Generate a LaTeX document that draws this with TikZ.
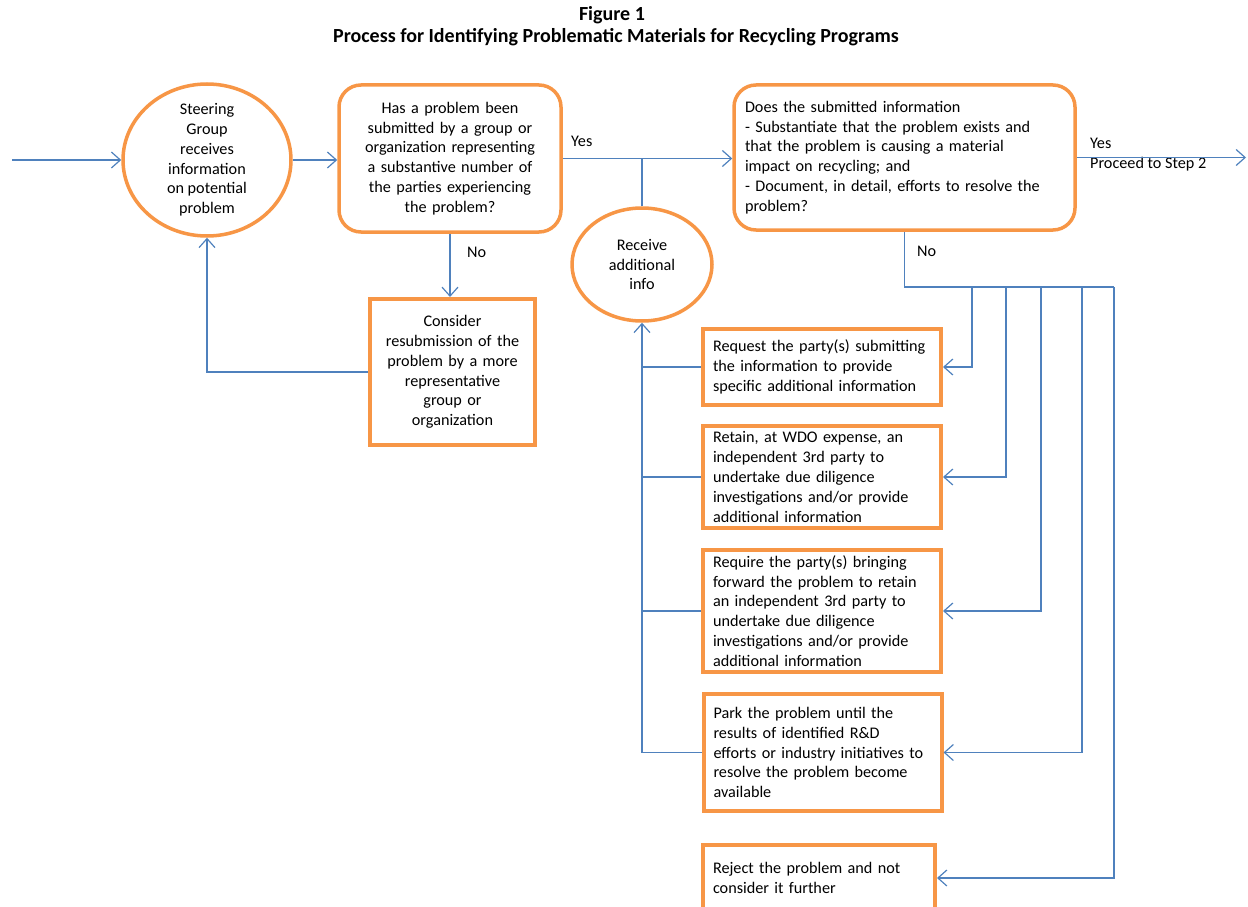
\documentclass[tikz,border=0pt]{standalone}
\usepackage{fontspec}
\setmainfont{Carlito}
\usepackage{tikz}
\usetikzlibrary{arrows.meta,shapes.geometric}
\definecolor{boxorange}{HTML}{F79646}
\definecolor{lineblue}{HTML}{4F81BD}

\begin{document}
\begin{tikzpicture}[x=1pt,y=-1pt,
  bodytext/.style={font=\fontsize{16.2}{19.8}\selectfont},
  titletext/.style={font=\fontsize{20}{22}\selectfont\bfseries,inner sep=0pt},
  lbl/.style={bodytext,inner sep=1pt},
  flow/.style={draw=lineblue,line width=1.2pt,-{Straight Barb[length=9pt,width=16pt,line width=1.2pt]}},
  link/.style={draw=lineblue,line width=1.2pt},
  grp/.style={ellipse,draw=boxorange,line width=3.5pt,inner sep=0pt,bodytext,align=center},
  ask/.style={rectangle,draw=boxorange,line width=3.5pt,rounded corners=22pt,bodytext,inner sep=0pt},
  act/.style={rectangle,draw=boxorange,line width=4pt,bodytext,align=left,text width=#1,inner xsep=10pt,inner ysep=0pt},
  act/.default=218pt]
\useasboundingbox (0,0) rectangle (1248,907);

% title
\node (figno) [titletext] at (612,15) {Figure 1};
\node (title) [titletext] at (616,37) {Process for Identifying Problematic Materials for Recycling Programs};

% upper row
\node (steer) [grp,minimum width=168pt,minimum height=152pt,
  label={[bodytext,align=center]center:Steering\\Group\\receives\\information\\on potential\\problem}] at (207,160) {};
\node (subm) [ask,align=center,text width=204pt,minimum width=222pt,minimum height=147pt] at (450,158.5)
  {Has a problem been\\submitted by a group or\\organization representing\\a substantive number of\\the parties experiencing\\the problem?};
\node (check) [ask,align=left,text width=319pt,minimum width=341pt,minimum height=145pt] at (904.5,157.5)
  {Does the submitted information\\- Substantiate that the problem exists and\\that the problem is causing a  material\\impact on recycling; and\\- Document, in detail, efforts to resolve the\\problem?};
\node (resub) [act=153pt,align=center,inner xsep=6pt,minimum height=146pt] at (452.5,372)
  {Consider\\resubmission of the\\problem by a more\\representative\\group or\\organization};
\node (recv) [grp,minimum width=140pt,minimum height=113pt] at (642,264.5) {Receive\\additional\\info};

% options after No
\node (reqinfo) [act,minimum height=76pt] at (822,367)
  {Request the party(s) submitting\\the information to provide\\specific additional information};
\node (retain) [act,minimum height=102pt] at (822,477)
  {Retain, at WDO expense, an\\independent 3rd party to\\undertake due diligence\\investigations and/or  provide\\additional information};
\node (require) [act,minimum height=122pt] at (822,611)
  {Require the party(s) bringing\\forward the problem to retain\\an independent 3rd party to\\undertake due diligence\\investigations and/or provide\\additional information};
\node (park) [act,minimum height=117pt] at (822.5,752.5)
  {Park the problem until the\\results of identified R\&D\\efforts or industry initiatives to\\resolve the problem become\\available};
\node (reject) [act=212pt,minimum height=66pt] at (819,878)
  {Reject the problem and not\\consider it further};

% labels
\node (yesa) [lbl,anchor=west] at (570,141) {Yes};
\node (noa) [lbl,anchor=west] at (466,252) {No};
\node (yesb) [lbl,anchor=west,align=left] at (1089,155) {Yes\\Proceed to Step 2};
\node (nob) [lbl,anchor=west] at (916,251) {No};

% connectors
\coordinate (entry) at (12,160);
\coordinate (exit) at (1246,157.5);
\draw[flow] (entry) -- (steer.west);
\draw[flow] (steer.east) -- (steer.east -| subm.west);
\draw[flow] (subm.east) -- (subm.east -| check.west);
\draw[link] (recv.north) -- (recv.north |- subm.east);
\draw[flow] (check.east) -- (exit);
\draw[flow] (subm.south) -- (subm.south |- resub.north);
\draw[flow] (resub.west) -| (steer.south);

% No branches
\foreach \x/\t [count=\i] in {972/reqinfo,1006/retain,1041/require,1082/park,1114/reject} {
  \coordinate (br\i) at (\x,287);
  \draw[flow] (br\i) |- (\t.east);
}
\draw[link] (check.south) |- (br5);

% back to Receive additional info
\foreach \t in {reqinfo,retain,require} {
  \draw[link] (\t.west) -- (\t.west -| recv.south);
}
\draw[flow] (park.west) -| (recv.south);
\end{tikzpicture}
\end{document}
